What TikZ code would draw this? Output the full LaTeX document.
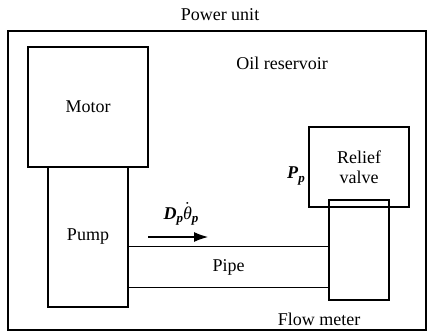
\documentclass[tikz,border=0pt]{standalone}
\usepackage{amsmath}
\usepackage{amssymb}
\usepackage{fontspec}
\setmainfont{Liberation Serif}
\usetikzlibrary{arrows.meta}
\newcommand{\bisub}[2]{\textbf{\textit{#1}}\raisebox{-0.4ex}{\fontsize{6.5}{7}\selectfont\bfseries\itshape #2}}

\begin{document}
\begin{tikzpicture}[x=0.5pt,y=-0.5pt,font=\fontsize{9}{10}\selectfont,
  unit/.style={draw,line width=0.55pt,outer sep=0pt,inner sep=0pt,align=center},
  tag/.style={inner sep=1pt}]
\useasboundingbox (0,0) rectangle (427,332);
% reservoir and blocks
\node[unit,line width=0.7pt,minimum width=209pt,minimum height=149.5pt] (tank) at (217,180.5) {};
\node[unit,minimum width=60pt,minimum height=60pt] (motor) at (88,107) {Motor};
\node[unit,minimum width=40pt,minimum height=70pt] (pump) at (88,237) {\raisebox{-2.5pt}{Pump}};
\node[unit,minimum width=50pt,minimum height=40pt] (valve) at (359,167) {Relief\\valve};
\node[unit,minimum width=30pt,minimum height=50pt] (meter) at (359,250) {};
\node[inner sep=0pt,minimum width=100.5pt,minimum height=20pt] (pipe) at (228.5,267) {Pipe};
\draw[line width=0.55pt] (pipe.north west) -- (pipe.north east);
\draw[line width=0.55pt] (pipe.south west) -- (pipe.south east);
% flow arrow
\coordinate (fstart) at (148,237);
\coordinate (fend) at (208,237);
\draw[line width=0.55pt,-{Latex[length=7pt,width=5pt]}] (fstart) -- (fend);
% labels
\node[tag] (power) at (220,15) {Power unit};
\node[tag] (oil) at (282,63) {Oil reservoir};
\node[tag] (flowlbl) at (319,319) {Flow meter};
\node[tag] (press) at (296,176) {\bisub{P}{p}};
\node[tag] (qflow) at (181,214) {\bisub{D}{p}$\dot{\text{\itshape θ}}$\raisebox{-0.4ex}{\fontsize{6.5}{7}\selectfont\bfseries\itshape p}};
\end{tikzpicture}
\end{document}
